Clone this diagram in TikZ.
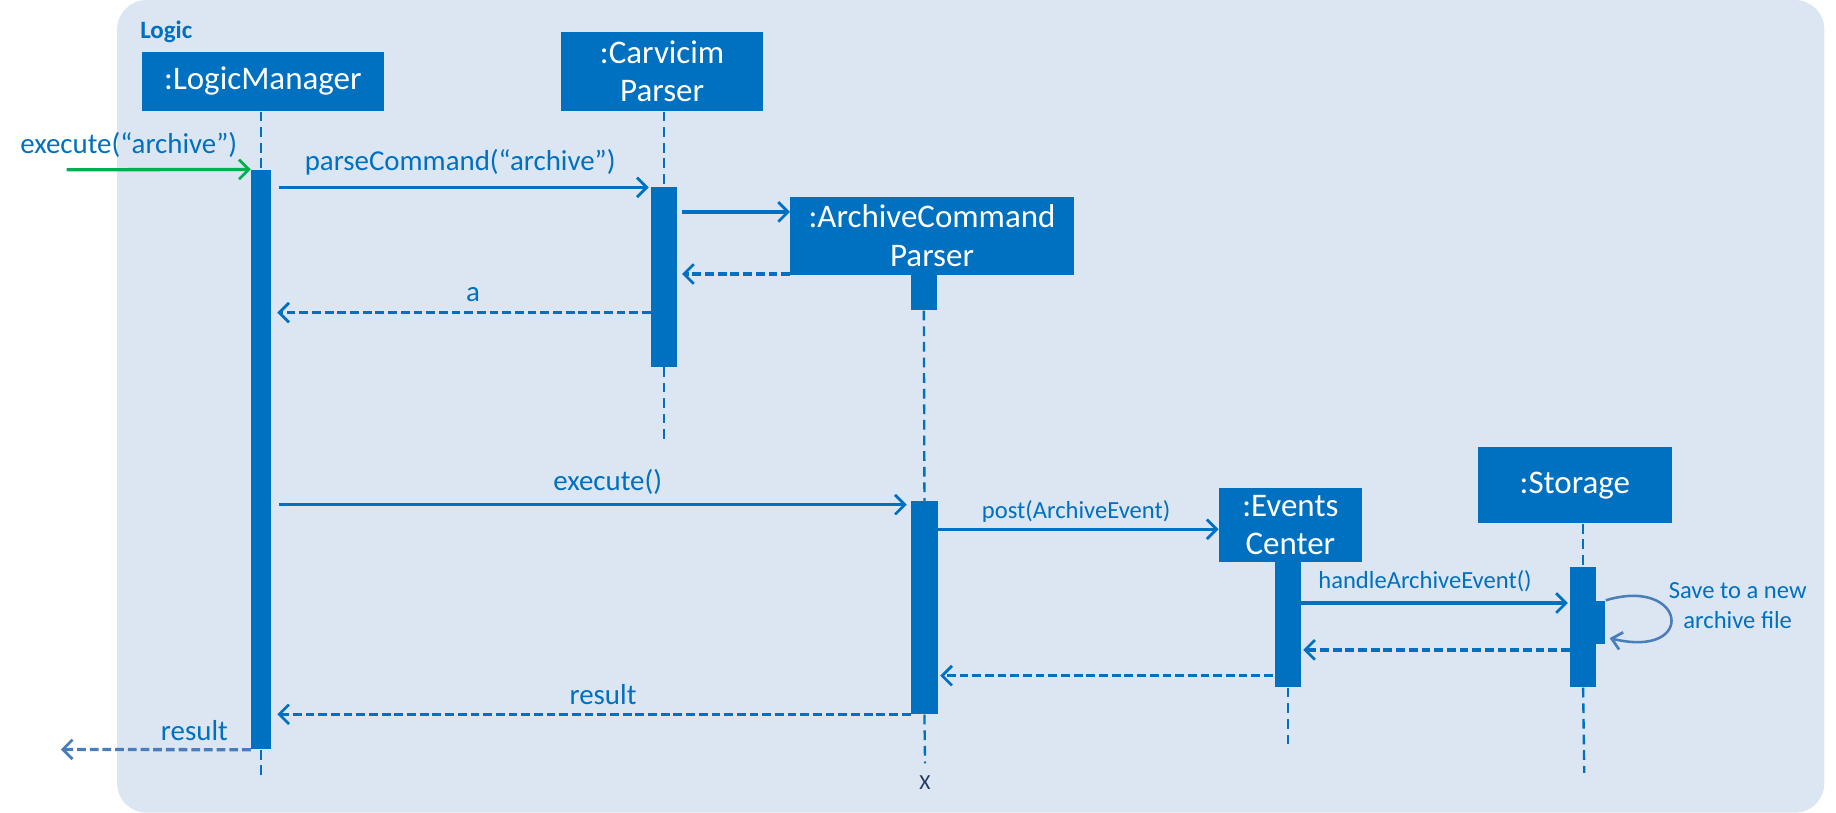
\documentclass[tikz,border=0pt]{standalone}
\usepackage{fontspec}
\setmainfont{Carlito}
\usetikzlibrary{arrows.meta}
\definecolor{boxblue}{HTML}{0070C0}
\definecolor{bgblue}{HTML}{DCE6F2}
\definecolor{gr}{HTML}{00B050}
\definecolor{softblue}{HTML}{4A7EBB}
\definecolor{navy}{HTML}{1F3864}
\tikzset{
  obj/.style={rectangle, fill=boxblue, text=white, font=\fontsize{16.9}{19.8}\selectfont, align=center, inner sep=0pt},
  act/.style={rectangle, fill=boxblue, inner sep=0pt},
  life/.style={draw=boxblue, line width=1.2pt, dash pattern=on 5pt off 3pt},
  msg/.style={draw=boxblue, line width=1.7pt, -{Straight Barb[length=5pt,width=10pt,line width=1.4pt]}},
  ret/.style={msg, dash pattern=on 4.5pt off 2pt},
  lbl/.style={text=boxblue, font=\fontsize{14.8}{17}\selectfont, inner sep=0pt},
  slbl/.style={text=boxblue, font=\fontsize{12.6}{15.6}\selectfont, inner sep=0pt, align=center}
}
\begin{document}
\begin{tikzpicture}[x=0.6pt, y=-0.6pt]
\useasboundingbox (0,0) rectangle (1568,694);
\fill[bgblue, rounded corners=15pt] (100,0) rectangle (1558,694);
\node[text=boxblue, font=\bfseries\fontsize{12.8}{15}\selectfont, inner sep=0pt] (logic) at (142,27) {Logic};

% objects
\node[obj, minimum width=124.2pt, minimum height=30.6pt] (lm) at (224.5,69.5) {:LogicManager};
\node[obj, minimum width=103.8pt, minimum height=40.8pt] (cp) at (565.5,61) {:Carvicim\\Parser};
\node[obj, minimum width=145.2pt, minimum height=40.2pt] (acp) at (796,201.5) {:ArchiveCommand\\Parser};
\node[obj, minimum width=73.2pt, minimum height=37.8pt] (ec) at (1102,448.5) {:Events\\Center};
\node[obj, minimum width=99.6pt, minimum height=39pt] (st) at (1345,414.5) {:Storage};

% activation bars
\node[act, minimum width=10.2pt, minimum height=297pt] (lmA) at (223,392.5) {};
\node[act, minimum width=13.2pt, minimum height=91.8pt] (cpA) at (567,236.5) {};
\node[act, minimum width=13.2pt, minimum height=18pt] (acpA0) at (789,250) {};
\node[act, minimum width=13.8pt, minimum height=109.2pt] (acpA) at (789.5,519) {};
\node[act, minimum width=13.2pt, minimum height=64.2pt] (ecA) at (1100,533.5) {};
\node[act, minimum width=13.2pt, minimum height=61.8pt] (stA) at (1352,535.5) {};
\node[act, minimum width=6pt, minimum height=22.2pt] (stB) at (1366,531.5) {};

% lifeline ends
\coordinate (lmEnd) at (223,662);
\coordinate (cpEnd) at (567,378);
\coordinate (acpEnd) at (790,652);
\coordinate (ecEnd) at (1100,640);
\coordinate (stEnd) at (1353,660);

% lifelines
\draw[life] (lm.south -| lmA.north) -- (lmA.north);
\draw[life] (lmA.south) -- (lmEnd);
\draw[life] (cp.south -| cpA.north) -- (cpA.north);
\draw[life] (cpA.south) -- (cpEnd);
\draw[life] (acpA0.south) -- (acpA.north);
\draw[life] (acpA.south) -- (acpEnd);
\draw[life] (ecA.south) -- (ecEnd);
\draw[life] (st.south -| stA.north) -- (stA.north);
\draw[life] (stA.south) -- (stEnd);

% messages
\coordinate (in) at (57,145);
\draw[msg, draw=gr] (in) -- (lmA.north west);
\node[lbl] (l1) at (110,124) {execute(“archive”)};

\draw[msg, shorten <=4pt, shorten >=1pt] (lmA.east |- 0,160) -- (cpA.west |- 0,160);
\node[lbl] (l2) at (393,139) {parseCommand(“archive”)};

\draw[msg, shorten <=2.5pt] (cpA.east |- 0,181) -- (acp.west |- 0,181);
\draw[ret, shorten >=2.5pt] (acp.west |- 0,234) -- (cpA.east |- 0,234);

\draw[ret, shorten >=3pt] (cpA.west |- 0,267) -- (lmA.east |- 0,267);
\node[lbl] (l3) at (404,252) {a};

\draw[msg, shorten <=4pt, shorten >=2pt] (lmA.east |- 0,431) -- (acpA.west |- 0,431);
\node[lbl] (l4) at (519,412) {execute()};

\draw[msg] (acpA.east |- 0,452) -- (ec.west |- 0,452);
\node[slbl] (l5) at (919,437) {post(ArchiveEvent)};

\draw[msg, shorten >=1pt] (ecA.east |- 0,515) -- (stA.west |- 0,515);
\node[slbl] (l6) at (1217,496) {handleArchiveEvent()};

\draw[draw=softblue, line width=1.3pt, -{Straight Barb[length=5pt,width=9pt,line width=1.4pt]}]
  (stB.north east) .. controls (1440,492) and (1450,563) .. ([xshift=2pt]stB.east |- 0,545);
\node[slbl] (l7) at (1484,517) {Save to a new\\archive file};

\draw[ret, shorten >=1pt] (stA.west |- 0,555) -- (ecA.east |- 0,555);
\draw[ret, shorten <=1pt, shorten >=1pt] (ecA.west |- 0,577) -- (acpA.east |- 0,577);

\draw[ret, shorten >=3pt] (acpA.west |- 0,610) -- (lmA.east |- 0,610);
\node[lbl] (l8) at (515,593) {result};

\coordinate (out) at (52,640);
\draw[ret, draw=softblue] (lmA.south west) -- (out);
\node[lbl] (l9) at (166,624) {result};

\node[text=navy, font=\fontsize{11}{13}\selectfont, inner sep=0pt] (x) at (790,668) {X};
\end{tikzpicture}
\end{document}
